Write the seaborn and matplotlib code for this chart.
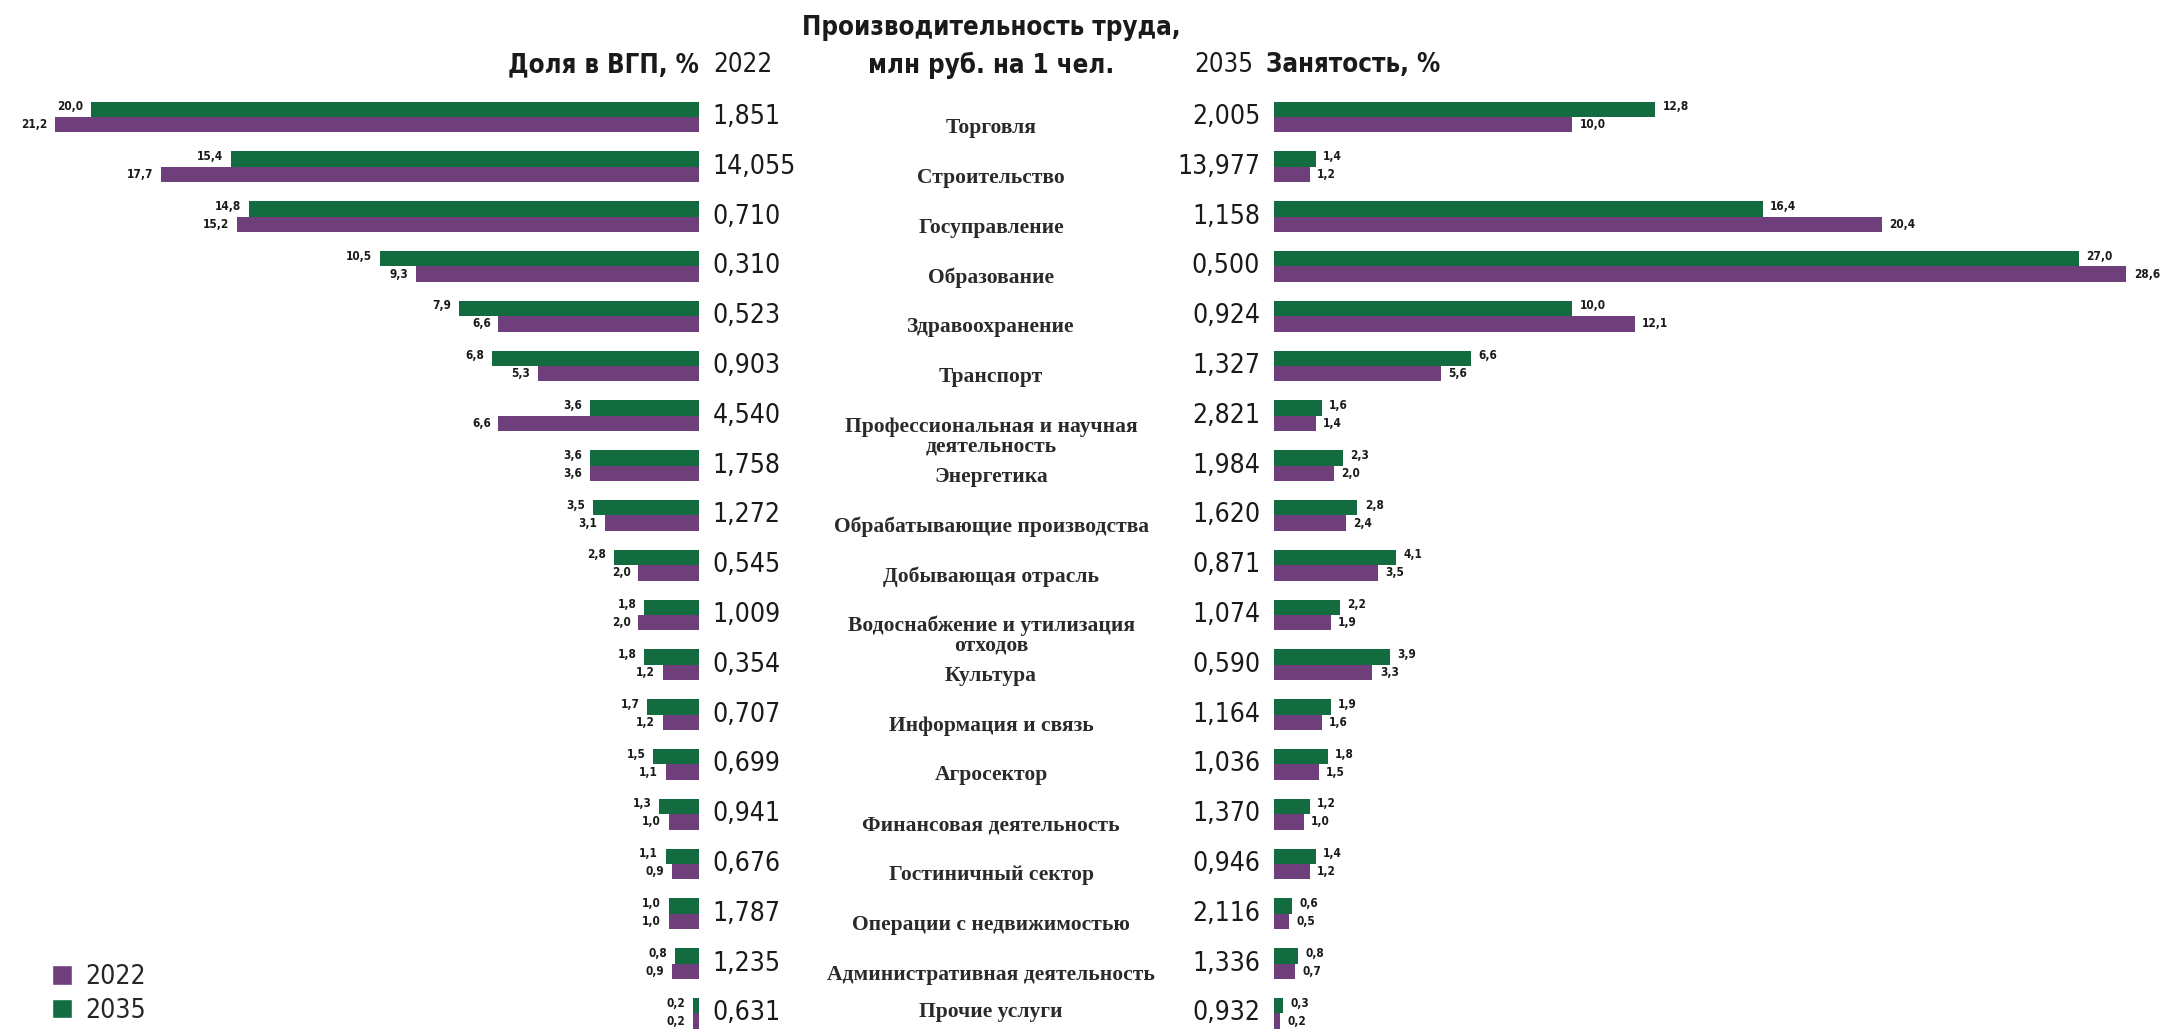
import numpy as np
import pandas as pd
import matplotlib
matplotlib.use("Agg")
import matplotlib.pyplot as plt
from matplotlib.patches import Patch
import seaborn as sns

sectors = [
    "Торговля", "Строительство", "Госуправление", "Образование",
    "Здравоохранение", "Транспорт", "Профессиональная и научная\nдеятельность",
    "Энергетика", "Обрабатывающие производства", "Добывающая отрасль",
    "Водоснабжение и утилизация\nотходов", "Культура", "Информация и связь",
    "Агросектор", "Финансовая деятельность", "Гостиничный сектор",
    "Операции с недвижимостью", "Административная деятельность", "Прочие услуги",
]

gdp_share_2022 = [21.2, 17.7, 15.2, 9.3, 6.6, 5.3, 6.6, 3.6, 3.1, 2.0, 2.0, 1.2, 1.2, 1.1, 1.0, 0.9, 1.0, 0.9, 0.2]
gdp_share_2035 = [20.0, 15.4, 14.8, 10.5, 7.9, 6.8, 3.6, 3.6, 3.5, 2.8, 1.8, 1.8, 1.7, 1.5, 1.3, 1.1, 1.0, 0.8, 0.2]

productivity_2022 = ["1,851", "14,055", "0,710", "0,310", "0,523", "0,903", "4,540", "1,758", "1,272", "0,545",
                     "1,009", "0,354", "0,707", "0,699", "0,941", "0,676", "1,787", "1,235", "0,631"]
productivity_2035 = ["2,005", "13,977", "1,158", "0,500", "0,924", "1,327", "2,821", "1,984", "1,620", "0,871",
                     "1,074", "0,590", "1,164", "1,036", "1,370", "0,946", "2,116", "1,336", "0,932"]

employment_2022 = [10.0, 1.2, 20.4, 28.6, 12.1, 5.6, 1.4, 2.0, 2.4, 3.5, 1.9, 3.3, 1.6, 1.5, 1.0, 1.2, 0.5, 0.7, 0.2]
employment_2035 = [12.8, 1.4, 16.4, 27.0, 10.0, 6.6, 1.6, 2.3, 2.8, 4.1, 2.2, 3.9, 1.9, 1.8, 1.2, 1.4, 0.6, 0.8, 0.3]

years = ["2035", "2022"]
colors = {"2022": "#6e3f7a", "2035": "#136c40"}

sns.set_theme(style="white")
plt.rcParams["font.family"] = ["DejaVu Sans"]
plt.rcParams["font.stretch"] = "condensed"

W, H = 2167, 1030
fig = plt.figure(figsize=(W / 100, H / 100), dpi=100)

# vertical layout in pixels: first row centre and row pitch
row0, pitch = 117.0, 49.8
y_top = -row0 / pitch
y_bot = (H - row0) / pitch
px_left, px_right = 30.4, 29.8

left_edge, mid_right = 699, 1274
ax_l = fig.add_axes([0, 0, left_edge / W, 1])
ax_m = fig.add_axes([left_edge / W, 0, (mid_right - left_edge) / W, 1])
ax_r = fig.add_axes([mid_right / W, 0, (W - mid_right) / W, 1])


def long_table(v2022, v2035):
    return pd.DataFrame({
        "sector": sectors * 2,
        "value": list(v2035) + list(v2022),
        "year": ["2035"] * len(sectors) + ["2022"] * len(sectors),
    })


gdp_df = long_table(gdp_share_2022, gdp_share_2035)
emp_df = long_table(employment_2022, employment_2035)

for ax, df in ((ax_l, gdp_df), (ax_r, emp_df)):
    sns.barplot(data=df, y="sector", x="value", hue="year", hue_order=years,
                order=sectors, palette=colors, orient="h", width=0.62,
                errorbar=None, legend=False, ax=ax, linewidth=0, saturation=1)

ax_l.set_xlim(left_edge / px_left, 0)
ax_r.set_xlim(0, (W - mid_right) / px_right)
for ax in (ax_l, ax_m, ax_r):
    ax.set_ylim(y_bot, y_top)
    ax.set_axis_off()
ax_m.set_xlim(0, 1)

ink = "#1a1a1a"
label_kw = dict(fontsize=8.5, fontweight="bold", color=ink, va="center")
off = 0.62 / 4
# lowest allowed top of a sector name so that it stays inside the figure
name_top_max = (H - 28 - row0) / pitch


def fmt(v):
    return f"{v:.1f}".replace(".", ",")


for i in range(len(sectors)):
    ax_l.text(gdp_share_2035[i] + 0.25, i - off - 0.05, fmt(gdp_share_2035[i]), ha="right", **label_kw)
    ax_l.text(gdp_share_2022[i] + 0.25, i + off, fmt(gdp_share_2022[i]), ha="right", **label_kw)
    ax_r.text(employment_2035[i] + 0.25, i - off - 0.05, fmt(employment_2035[i]), ha="left", **label_kw)
    ax_r.text(employment_2022[i] + 0.25, i + off, fmt(employment_2022[i]), ha="left", **label_kw)

    ax_m.text(0.024, i, productivity_2022[i], ha="left", va="center", fontsize=19, color=ink)
    ax_m.text(0.976, i, productivity_2035[i], ha="right", va="center", fontsize=19, color=ink)
    ax_m.text(0.508, min(i + 0.02, name_top_max), sectors[i], ha="center", va="top", fontsize=15.5,
              family=["Liberation Serif", "DejaVu Serif"], stretch="normal", fontweight="bold",
              color="#2a2a2a", linespacing=0.95)

# column headings
head_y = 1 - 65 / H
head_kw = dict(va="center", fontsize=18.5, color=ink)
fig.text(left_edge / W, head_y, "Доля в ВГП, %", ha="right", fontweight="bold", **head_kw)
fig.text(713 / W, head_y, "2022", ha="left", **head_kw)
fig.text(991 / W, 1 - 28 / H, "Производительность труда,", ha="center", fontweight="bold", **head_kw)
fig.text(991 / W, head_y, "млн руб. на 1 чел.", ha="center", fontweight="bold", **head_kw)
fig.text(1253 / W, head_y, "2035", ha="right", **head_kw)
fig.text(1266 / W, head_y, "Занятость, %", ha="left", fontweight="bold", **head_kw)

handles = [Patch(facecolor=colors["2022"], label="2022"), Patch(facecolor=colors["2035"], label="2035")]
fig.legend(handles=handles, loc="lower left", bbox_to_anchor=(52 / W, 6 / H), frameon=False,
           borderpad=0, borderaxespad=0, handlelength=0.75, handleheight=0.75,
           handletextpad=0.5, labelspacing=0.3,
           prop={"family": ["DejaVu Sans"], "stretch": "condensed", "size": 19})

fig.savefig("out.png", dpi=100, facecolor="white")
